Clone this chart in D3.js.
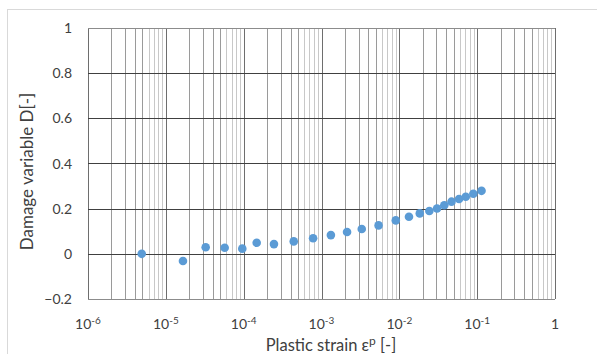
<!DOCTYPE html>
<html>
<head>
<meta charset="utf-8">
<script src="https://cdn.jsdelivr.net/npm/d3@7"></script>
<style>
  body { margin: 0; background: #fff; }
  svg text { font-family: Lato, "Open Sans", sans-serif; fill: #404040; }
</style>
</head>
<body>
<div id="chart"></div>
<script>
// plastic strain values and damage variable
const strain = [
  4.9e-6, 1.66e-5, 3.25e-5, 5.7e-5, 9.6e-5, 1.47e-4, 2.45e-4, 4.4e-4,
  7.8e-4, 1.32e-3, 2.13e-3, 3.29e-3, 5.41e-3, 9.0e-3, 1.33e-2, 1.83e-2,
  2.43e-2, 3.05e-2, 3.78e-2, 4.68e-2, 5.85e-2, 7.14e-2, 8.93e-2, 0.1138,
];
const damage = [
  0.0, -0.032, 0.029, 0.027, 0.023, 0.049, 0.043, 0.055,
  0.069, 0.083, 0.097, 0.110, 0.126, 0.148, 0.164, 0.179,
  0.190, 0.201, 0.215, 0.231, 0.243, 0.253, 0.266, 0.279,
];
const xExponents = [-6, -5, -4, -3, -2, -1, 0];
const yTicks = [-0.2, 0, 0.2, 0.4, 0.6, 0.8, 1];

const width = 597;
const height = 354;
const margin = { top: 28, right: 42, bottom: 55, left: 88 };

const x = d3.scaleLog()
  .domain([1e-6, 1])
  .range([margin.left, width - margin.right]);
const y = d3.scaleLinear()
  .domain([-0.2, 1])
  .range([height - margin.bottom, margin.top]);

const svg = d3.select('#chart')
  .append('svg')
  .attr('width', width)
  .attr('height', height);

// outer chart frame
svg.append('rect')
  .attr('x', 7.5)
  .attr('y', 9.5)
  .attr('width', width + 10)
  .attr('height', height + 10)
  .attr('fill', 'none')
  .attr('stroke', '#d9d9d9');

// vertical gridlines: minor at 2..9 of each decade, major at each decade
const minorTicks = [];
xExponents.slice(0, -1).forEach((e) => {
  for (let k = 2; k <= 9; k++) minorTicks.push(k * Math.pow(10, e));
});

svg.append('g')
  .selectAll('line')
  .data(minorTicks)
  .join('line')
  .attr('x1', (d) => Math.round(x(d)) + 0.5)
  .attr('x2', (d) => Math.round(x(d)) + 0.5)
  .attr('y1', y(1))
  .attr('y2', y(-0.2))
  .attr('stroke', (d, i) => (i % 8 < 4 ? '#9a9a9a' : '#c8c8c8'))
  .attr('stroke-width', 1);

svg.append('g')
  .selectAll('line')
  .data(xExponents.map((e) => Math.pow(10, e)))
  .join('line')
  .attr('x1', (d) => Math.round(x(d)) + 0.5)
  .attr('x2', (d) => Math.round(x(d)) + 0.5)
  .attr('y1', y(1))
  .attr('y2', y(-0.2))
  .attr('stroke', '#6e6e6e')
  .attr('stroke-width', 1);

// horizontal gridlines
svg.append('g')
  .selectAll('line')
  .data(yTicks)
  .join('line')
  .attr('x1', x(1e-6))
  .attr('x2', x(1))
  .attr('y1', (d) => Math.round(y(d)) + 0.5)
  .attr('y2', (d) => Math.round(y(d)) + 0.5)
  .attr('stroke', (d) => (d === 1 || d === -0.2 ? '#8c8c8c' : '#404040'))
  .attr('stroke-width', 1);

// y tick labels
svg.append('g')
  .selectAll('text')
  .data(yTicks)
  .join('text')
  .attr('x', 72)
  .attr('y', (d) => y(d))
  .attr('dy', '0.36em')
  .attr('text-anchor', 'end')
  .attr('font-size', 14)
  .text((d) => d3.format('~g')(d));

// x tick labels with superscript exponents
const xLabels = svg.append('g')
  .selectAll('text')
  .data(xExponents)
  .join('text')
  .attr('x', (e) => x(Math.pow(10, e)))
  .attr('y', 329)
  .attr('text-anchor', 'middle')
  .attr('font-size', 14);

xLabels.each(function (e) {
  const t = d3.select(this);
  if (e === 0) {
    t.text('1');
    return;
  }
  t.append('tspan').text('10');
  t.append('tspan')
    .attr('dy', -5)
    .attr('font-size', 10)
    .text(String(e));
});

// axis titles
const xTitle = svg.append('text')
  .attr('x', 331)
  .attr('y', 351)
  .attr('text-anchor', 'middle')
  .attr('font-size', 16.5);
xTitle.append('tspan').text('Plastic strain ε');
xTitle.append('tspan').attr('dy', -6).attr('font-size', 12).text('p');
xTitle.append('tspan').attr('dy', 6).text(' [-]');

svg.append('text')
  .attr('transform', `translate(33,${(y(1) + y(-0.2)) / 2 + 8}) rotate(-90)`)
  .attr('text-anchor', 'middle')
  .attr('font-size', 17)
  .text('Damage variable D[-]');

// data points
svg.append('g')
  .selectAll('circle')
  .data(strain)
  .join('circle')
  .attr('cx', (d) => x(d))
  .attr('cy', (d, i) => y(damage[i]))
  .attr('r', 4.3)
  .attr('fill', '#5b9bd5');
</script>
</body>
</html>
